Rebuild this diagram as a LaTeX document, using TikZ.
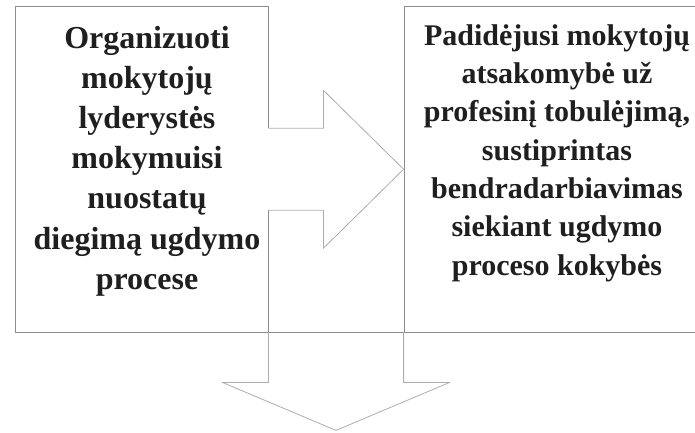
\documentclass[tikz,border=0pt]{standalone}
\usepackage{fontspec}
\setmainfont{Liberation Serif}
\usetikzlibrary{calc}
\begin{document}
\begin{tikzpicture}[x=1pt,y=-1pt,
  box/.style={draw=black!45, line width=0.8pt, inner sep=0pt},
  arrowline/.style={draw=black!32, line width=0.8pt, line join=miter},
  ltxt/.style={align=center, inner sep=0pt, text=black!88, font=\fontsize{32}{40.2}\selectfont\bfseries},
  rtxt/.style={align=center, inner sep=0pt, text=black!88, font=\fontsize{30}{38.3}\selectfont\bfseries}]
\useasboundingbox (0,0) rectangle (695,432);
\node[box, minimum width=253pt, minimum height=325.5pt] (lbox) at (141.5,169.25) {};
\node[box, minimum width=308pt, minimum height=325.5pt] (rbox) at (558,169.25) {};
% right arrow
\path (lbox.east) ++(0,-41) coordinate (ra1) ++(55,0) coordinate (ra2) ++(0,-38) coordinate (ra3);
\path (lbox.east) ++(0,41) coordinate (ra7) ++(55,0) coordinate (ra6) ++(0,38) coordinate (ra5);
\fill[white] ([xshift=-1.5pt]ra1) rectangle ([xshift=1.5pt]ra7);
\draw[arrowline] (ra1) -- (ra2) -- (ra3) -- (rbox.west) -- (ra5) -- (ra6) -- (ra7);
% down arrow
\path (lbox.south east) ++(0,50) coordinate (da1) ++(-46,0) coordinate (da2);
\path (rbox.south west) ++(0,50) coordinate (da5) ++(46,0) coordinate (da4);
\coordinate (da3) at ($(da1)!0.5!(da5)+(0,48)$);
\draw[box] (lbox.south east) -- (rbox.south west);
\draw[arrowline] (lbox.south east) -- (da1) -- (da2) -- (da3) -- (da4) -- (da5) -- (rbox.south west);
% texts
\node[ltxt] (ltext) at (147,161) {Organizuoti\\mokytojų\\lyderystės\\mokymuisi\\nuostatų\\diegimą ugdymo\\procese};
\node[rtxt] (rtext) at (557,153) {Padidėjusi mokytojų\\atsakomybė už\\profesinį tobulėjimą,\\sustiprintas\\bendradarbiavimas\\siekiant ugdymo\\proceso kokybės};
\end{tikzpicture}
\end{document}
